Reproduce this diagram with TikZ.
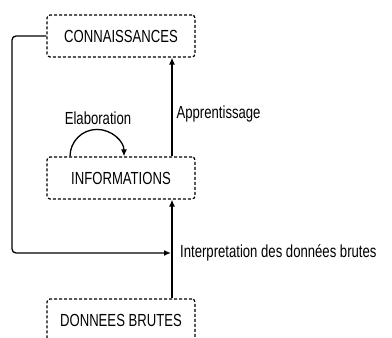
\documentclass[tikz,border=0pt]{standalone}
\usepackage{fontspec}
\setmainfont[FakeStretch=0.75]{Liberation Sans}
\usetikzlibrary{arrows.meta}
\begin{document}
\begin{tikzpicture}[x=1pt,y=-1pt,font=\fontsize{17.5}{20}\selectfont,
    etat/.style={draw,dash pattern=on 3pt off 2pt,rounded corners=3pt,
      minimum width=148pt,minimum height=42pt,line width=1.2pt},
    fleche/.style={line width=1.3pt,-{Latex[length=7pt,width=6pt]}}]
  \useasboundingbox (0,0) rectangle (392,338);
  \node[etat] (conn) at (121,36) {CONNAISSANCES};
  \node[etat] (info) at (121,178) {INFORMATIONS};
  \node[etat] (donnees) at (121,320) {DONNEES BRUTES};
  \coordinate (axe) at (172,0);
  \coordinate (jonction) at (172,253);
  % montee vers les connaissances
  \draw[fleche] (info.north -| axe) -- node[pos=.43,right,inner sep=4pt] (appr) {Apprentissage} (conn.south -| axe);
  \draw[fleche] (donnees.north -| axe) -- (info.south -| axe);
  \draw[fleche,rounded corners=4pt,shorten >=1pt] (conn.west) -| (12,253) -- (jonction);
  \node[right,inner sep=0pt,xshift=8pt] (interp) at (jonction) {Interpretation des données brutes};
  % boucle sur les informations
  \draw[fleche] ([xshift=-51pt]info.north) arc[start angle=180,end angle=360,radius=27];
  \node (elab) at (98,118) {Elaboration};
\end{tikzpicture}
\end{document}
